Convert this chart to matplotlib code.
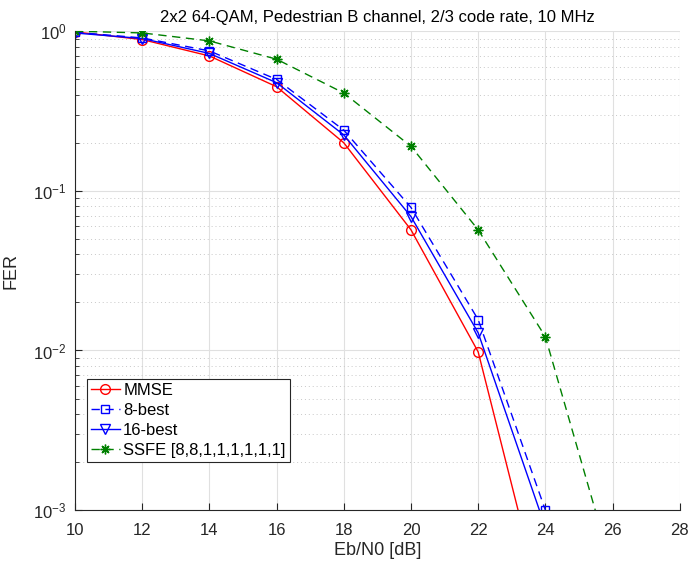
import numpy as np
import matplotlib
matplotlib.use("Agg")
import matplotlib.pyplot as plt

plt.rcParams['font.family'] = ['Liberation Sans', 'DejaVu Sans']

snr = [10, 12, 14, 16, 18, 20, 22, 24, 26]

mmse = [0.99, 0.887, 0.70, 0.449, 0.20, 0.057, 0.0098, 2.1e-4]
best8 = [0.985, 0.908, 0.753, 0.499, 0.24, 0.0787, 0.0156, 1.0e-3]
best16 = [0.975, 0.90, 0.726, 0.476, 0.224, 0.069, 0.0129, 7.8e-4]
ssfe = [1.0, 0.976, 0.87, 0.668, 0.41, 0.19, 0.057, 0.0122, 4.2e-4]

fig = plt.figure(figsize=(6.95, 5.68), dpi=100)
ax = fig.add_axes([0.108, 0.102, 0.87, 0.843])

dash = (0, (6, 4))
ax.semilogy(snr[:len(mmse)], mmse, '-o', color='red', lw=1, ms=7, mfc='none', label='MMSE')
ax.semilogy(snr[:len(best8)], best8, ls=dash, marker='s', color='blue', lw=1, ms=6, mfc='none', label='8-best')
ax.semilogy(snr[:len(best16)], best16, '-v', color='blue', lw=1, ms=7, mfc='none', label='16-best')
ax.semilogy(snr, ssfe, ls=dash, marker=(8, 2, 0), color='green', lw=1, ms=7, mew=1, label='SSFE [8,8,1,1,1,1,1,1]')

ax.set_xlim(10, 28)
ax.set_ylim(1e-3, 1)
ax.set_xticks(np.arange(10, 29, 2))
ax.grid(True, which='major', color='#e0e0e0', lw=0.8, ls='-')
ax.grid(True, which='minor', color='#c8c8c8', lw=0.7, ls=(0, (1, 3)))
ax.tick_params(which='both', direction='in', top=False, right=False, labelsize=12, colors='#262626')
ax.tick_params(which='major', length=5)
ax.tick_params(which='minor', length=3)
ax.tick_params(axis='x', which='major', pad=9)
ax.tick_params(axis='y', which='major', pad=6)
for s in ['top', 'right']:
    ax.spines[s].set_visible(False)
for s in ['left', 'bottom']:
    ax.spines[s].set_color('#262626')

ax.set_xlabel('Eb/N0 [dB]', fontsize=13, color='#262626', labelpad=3)
ax.set_ylabel('FER', fontsize=13, color='#262626', labelpad=10)
ax.set_title('2x2 64-QAM, Pedestrian B channel, 2/3 code rate, 10 MHz', fontsize=12, pad=7)

leg = ax.legend(loc='lower left', bbox_to_anchor=(0.019, 0.1), fontsize=12, frameon=True,
                fancybox=False, edgecolor='#262626', framealpha=1, handlelength=1.75,
                borderpad=0.25, labelspacing=0.3, handletextpad=0.2, borderaxespad=0)
leg.get_frame().set_linewidth(0.8)

fig.savefig('out.png', dpi=100)
